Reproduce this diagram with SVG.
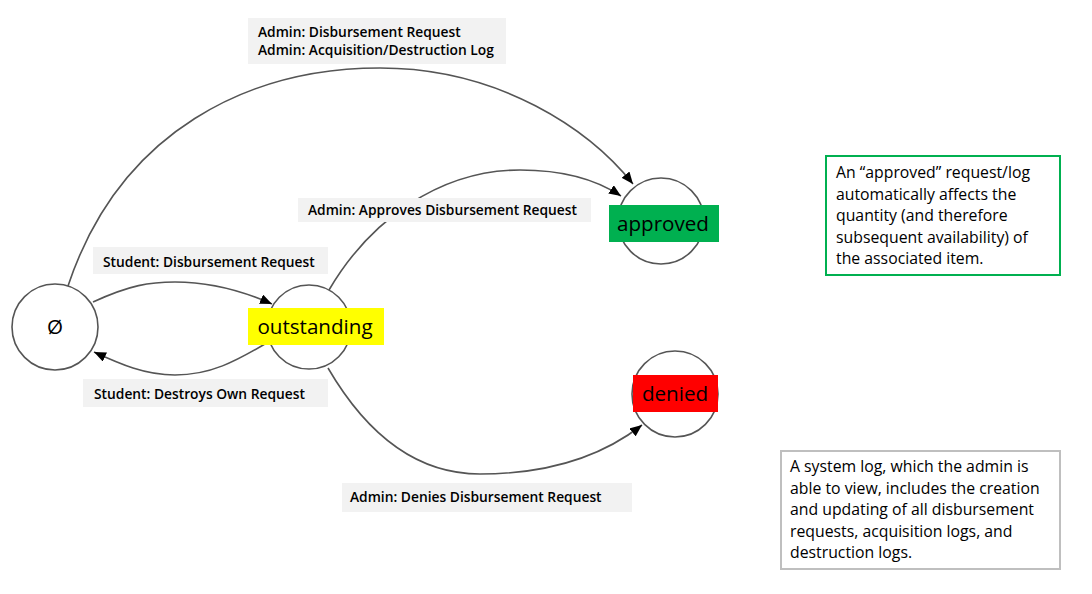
<svg xmlns="http://www.w3.org/2000/svg" width="1092" height="594" viewBox="0 0 1092 594">
<style>
.st{fill:#fff;stroke:#555;stroke-width:1.6}
.cn{fill:none;stroke:#555;stroke-width:1.6}
.lb{fill:#f2f2f2}
.lt{font-family:"Open Sans","Noto Sans",sans-serif;font-weight:600;font-size:13.8px;fill:#000}
.nt{font-family:"Open Sans","Noto Sans",sans-serif;font-size:20.6px;fill:#000}
.note{font-family:"Open Sans","Noto Sans",sans-serif;font-size:15.8px;fill:#000}
</style>
<defs>
<marker id="ah" viewBox="0 0 12 10" refX="12" refY="5" markerWidth="12" markerHeight="10" markerUnits="userSpaceOnUse" orient="auto">
<path d="M0,0 L12,5 L0,10 z" fill="#000"/>
</marker>
</defs>
<rect width="1092" height="594" fill="#fff"/>
<g id="connectors">
<path class="cn" d="M 68 286 C 120 130 250 68 380 68 C 500 68 590 130 633 184" marker-end="url(#ah)"/>
<path class="cn" d="M 329 290 C 370 220 440 170 520 170 C 570 170 600 182 621 196" marker-end="url(#ah)"/>
<path class="cn" d="M 93 302 C 130 285 150 282 175 282 C 210 282 245 292 272 304" marker-end="url(#ah)"/>
<path class="cn" d="M 270 341 C 235 362 210 375 175 375 C 145 375 120 364 94 352" marker-end="url(#ah)"/>
<path class="cn" d="M 328 368 C 370 440 420 474 480 474 C 560 474 610 450 642 425" marker-end="url(#ah)"/>
</g>
<g id="labels">
<rect class="lb" x="248" y="18" width="258" height="46"/>
<text class="lt" x="258" y="37">Admin: Disbursement Request</text>
<text class="lt" x="258" y="55">Admin: Acquisition/Destruction Log</text>
<rect class="lb" x="298" y="198" width="293" height="24"/>
<text class="lt" x="308" y="215">Admin: Approves Disbursement Request</text>
<rect class="lb" x="93" y="247" width="235" height="27"/>
<text class="lt" x="103" y="267">Student: Disbursement Request</text>
<rect class="lb" x="83" y="379" width="245" height="28"/>
<text class="lt" x="94" y="399">Student: Destroys Own Request</text>
<rect class="lb" x="342" y="483" width="290" height="29"/>
<text class="lt" x="350" y="502">Admin: Denies Disbursement Request</text>
</g>
<g id="node-empty">
<circle class="st" cx="55" cy="327" r="43"/>
<text class="nt" x="55" y="334" text-anchor="middle">Ø</text>
</g>
<g id="node-outstanding">
<circle class="st" cx="309" cy="327" r="42"/>
<rect x="248" y="308" width="136" height="37" fill="#ffff00"/>
<text class="nt" x="315" y="334" text-anchor="middle">outstanding</text>
</g>
<g id="node-approved">
<circle class="st" cx="661" cy="221" r="43"/>
<rect x="609" y="205" width="110" height="37" fill="#00b050"/>
<text class="nt" x="663" y="231" text-anchor="middle">approved</text>
</g>
<g id="node-denied">
<circle class="st" cx="675" cy="394" r="43"/>
<rect x="633" y="375" width="85" height="37" fill="#ff0000"/>
<text class="nt" x="675" y="401" text-anchor="middle">denied</text>
</g>
<g id="note-approved">
<rect x="826" y="156" width="234" height="119" fill="#fff" stroke="#00b050" stroke-width="2"/>
<text class="note" x="836" y="178">An “approved” request/log</text>
<text class="note" x="836" y="199.5">automatically affects the</text>
<text class="note" x="836" y="221">quantity (and therefore</text>
<text class="note" x="836" y="242.5">subsequent availability) of</text>
<text class="note" x="836" y="264">the associated item.</text>
</g>
<g id="note-log">
<rect x="781" y="451" width="279" height="118" fill="#fff" stroke="#bfbfbf" stroke-width="2"/>
<text class="note" x="790" y="472">A system log, which the admin is</text>
<text class="note" x="790" y="493.5">able to view, includes the creation</text>
<text class="note" x="790" y="515">and updating of all disbursement</text>
<text class="note" x="790" y="536.5">requests, acquisition logs, and</text>
<text class="note" x="790" y="558">destruction logs.</text>
</g>
</svg>
